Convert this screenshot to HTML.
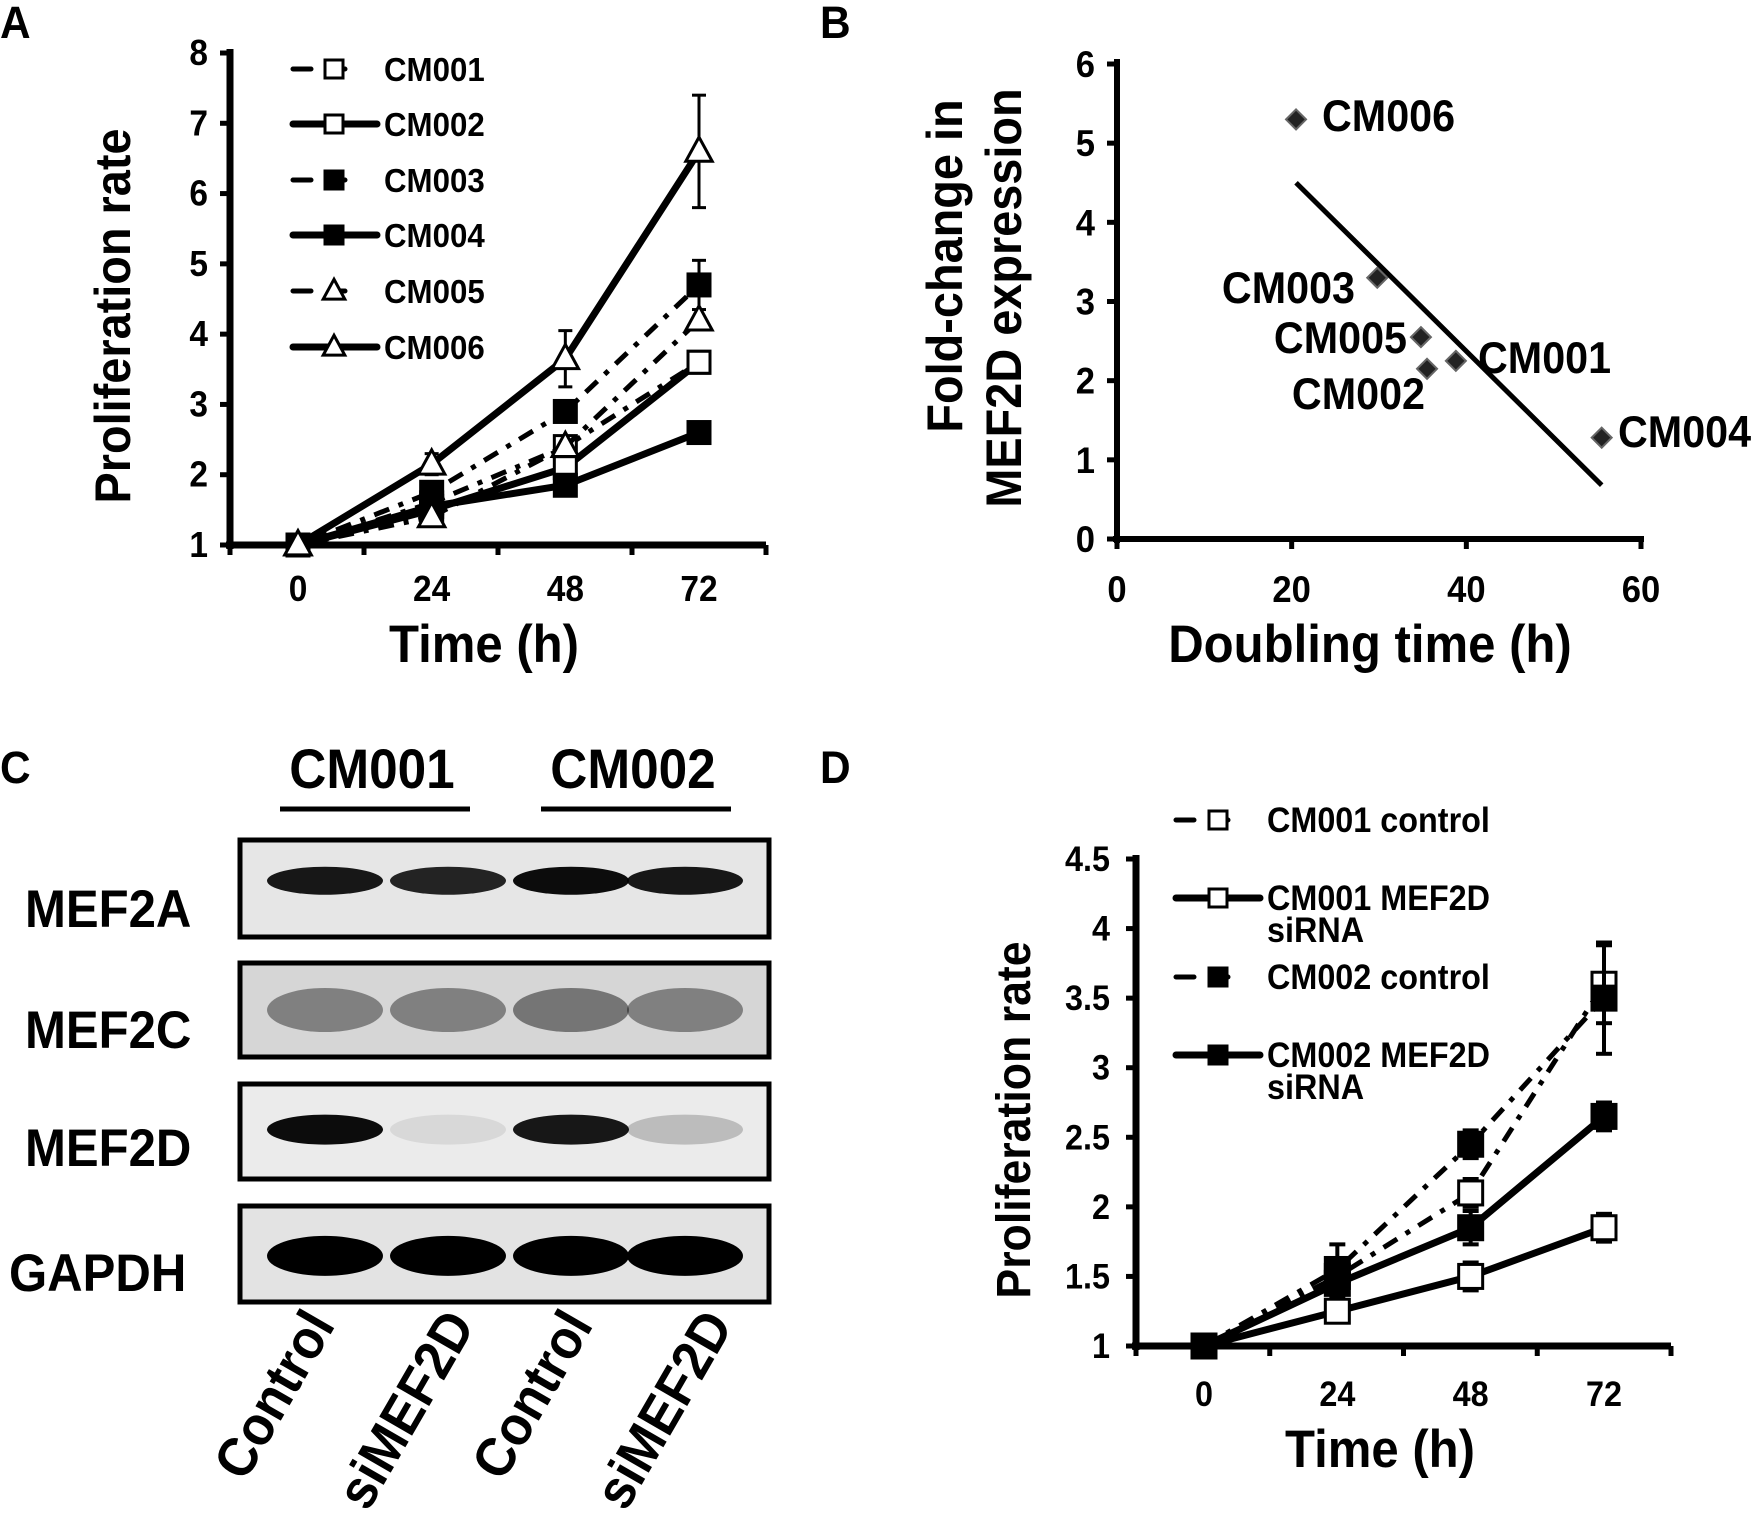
<!DOCTYPE html>
<html><head><meta charset="utf-8"><style>
html,body{margin:0;padding:0;background:#fff;}
svg{display:block;font-family:"Liberation Sans",Arial,sans-serif;font-weight:bold;}
</style></head><body>
<svg id="fig" width="1756" height="1525" viewBox="0 0 1756 1525" xmlns="http://www.w3.org/2000/svg">
<rect width="1756" height="1525" fill="#fff"/>
<g id="labels"></g>
<g id="pa"></g>
<g id="pb"></g>
<g id="pc"></g>
<g id="pd"></g>
</svg>
<script>
// ---------- data ----------
const timesA = [0, 24, 48, 72];
const seriesNamesA = ["CM001","CM002","CM003","CM004","CM005","CM006"];
const cm001 = [1, 1.6, 2.4, 3.6];
const cm002 = [1, 1.5, 2.1, 3.6];
const cm003 = [1, 1.75, 2.9, 4.7];
const cm004 = [1, 1.55, 1.85, 2.6];
const cm005 = [1, 1.4, 2.4, 4.2];
const cm006 = [1, 2.15, 3.65, 6.6];
const cm006Err = [0, 0.15, 0.4, 0.8];
const cm003Err = [0, 0.1, 0.1, 0.35];
const yTicksA = [1,2,3,4,5,6,7,8];

const ptNamesB = ["CM006","CM003","CM005","CM002","CM001","CM004"];
const doublingB = [20.5, 29.8, 34.8, 35.5, 38.8, 55.5];
const foldB = [5.3, 3.3, 2.55, 2.15, 2.25, 1.28];
const trendX = [20.5, 55.5];
const trendY = [4.5, 0.68];
const xTicksB = [0,20,40,60];
const yTicksB = [0,1,2,3,4,5,6];

const timesD = [0, 24, 48, 72];
const d001c = [1, 1.5, 2.1, 3.6];
const d001s = [1, 1.25, 1.5, 1.85];
const d002c = [1, 1.55, 2.45, 3.5];
const d002s = [1, 1.45, 1.85, 2.65];
const d001cErr = [0.05, 0.1, 0.1, 0.28];
const d002cErr = [0.08, 0.18, 0.1, 0.4];
const d002sErr = [0.05, 0.1, 0.12, 0.1];
const d001sErr = [0.03, 0.05, 0.1, 0.1];
const yTicksD = [1,1.5,2,2.5,3,3.5,4,4.5];

const NS = "http://www.w3.org/2000/svg";
function el(tag, attrs, parent, txt){
  const e = document.createElementNS(NS, tag);
  for (const k in attrs) e.setAttribute(k, attrs[k]);
  if (txt !== undefined) e.textContent = txt;
  parent.appendChild(e); return e;
}
function T(parent, x, y, size, anchor, str, rot){
  const tr = `translate(${x},${y})` + (rot ? ` rotate(${rot})` : "") + " scale(0.93,1)";
  return el("text", {x:0, y:0, "font-size": size*1.2, "text-anchor": anchor, transform: tr}, parent, str);
}
const DASH = "16,10,5,10";

function marker(g, kind, x, y, s){
  let m;
  if (kind === "sqo" || kind === "sqf") {
    m = el("rect", {x:x-s/2, y:y-s/2, width:s, height:s, fill: kind==="sqf"?"#000":"#fff", stroke:"#000","stroke-width":3}, g);
  } else if (kind === "tri") {
    m = el("polygon", {points:`${x},${y-s*0.65} ${x-s*0.6},${y+s*0.45} ${x+s*0.6},${y+s*0.45}`, fill:"#fff", stroke:"#000","stroke-width":3}, g);
  } else {
    m = el("polygon", {points:`${x},${y-s/2} ${x+s/2},${y} ${x},${y+s/2} ${x-s/2},${y}`, fill:"#222", stroke:"#666","stroke-width":2}, g);
  }
  
  
  return m;
}

(function(){
  const g = document.getElementById("labels");
  [["A",0,38],["B",820,38],["C",0,783],["D",820,783]].forEach(p=>{
    const t = T(g,p[1],p[2],38,"start",p[0]);
    
    
  });
})();

// ---------- Panel A ----------
(function(){
  const g = document.getElementById("pa");
  const x0=230, x1=766, yb=545, yt=53;
  const ya = v => yb - (v-1)*(yb-yt)/7;
  const xa = t => 298 + t*(699-298)/72;
  el("line",{x1:x0,y1:yt-4,x2:x0,y2:yb+4,stroke:"#000","stroke-width":7},g);
  el("line",{x1:x0-4,y1:yb,x2:x1,y2:yb,stroke:"#000","stroke-width":7},g);
  yTicksA.forEach(v=>{
    el("line",{x1:x0-10,y1:ya(v),x2:x0,y2:ya(v),stroke:"#000","stroke-width":5},g);
    const t = T(g,x0-22,ya(v)+12,30,"end",String(v));
     
  });
  [0,1,2,3,4].forEach(i=>{const xx=x0+i*(x1-x0)/4; el("line",{x1:xx,y1:yb,x2:xx,y2:yb+10,stroke:"#000","stroke-width":5},g);});
  timesA.forEach(t=>{
    const tl = T(g,xa(t),601,30,"middle",String(t));
     
  });
  const xt = T(g,484,662,44,"middle","Time (h)");
   
  const yt2 = T(g,130,316,42,"middle","Proliferation rate",-90);
   

  const series = [
    [cm001,"sqo",true,null],[cm002,"sqo",false,null],[cm003,"sqf",true,cm003Err],
    [cm004,"sqf",false,null],[cm005,"tri",true,null],[cm006,"tri",false,cm006Err]];
  series.forEach((s,i)=>{
    const pts = s[0].map((v,j)=>`${xa(timesA[j])},${ya(v)}`).join(" ");
    const pl = el("polyline",{points:pts,fill:"none",stroke:"#000","stroke-width":s[2]?5:7,"stroke-dasharray":s[2]?DASH:"none"},g);
     
    if (s[3]) s[3].forEach((e,j)=>{ if(e>0){const x=xa(timesA[j]);
      el("line",{x1:x,y1:ya(s[0][j]-e),x2:x,y2:ya(s[0][j]+e),stroke:"#000","stroke-width":3},g);
      el("line",{x1:x-7,y1:ya(s[0][j]+e),x2:x+7,y2:ya(s[0][j]+e),stroke:"#000","stroke-width":3},g);
      el("line",{x1:x-7,y1:ya(s[0][j]-e),x2:x+7,y2:ya(s[0][j]-e),stroke:"#000","stroke-width":3},g);}});
    s[0].forEach((v,j)=>marker(g,s[1],xa(timesA[j]),ya(v),22));
  });
  const ly=[69,124,180,235,291,347];
  series.forEach((s,i)=>{
    const lg = el("g",{},g);
     
    el("line",{x1:293,y1:ly[i],x2:377,y2:ly[i],stroke:"#000","stroke-width":s[2]?5:7,"stroke-dasharray":s[2]?"18,28,6,40":"none","stroke-linecap":"round"},lg);
    marker(lg,s[1],334,ly[i],18);
    T(lg,384,ly[i]+12,28,"start",seriesNamesA[i]);
  });
})();

// ---------- Panel B ----------
(function(){
  const g = document.getElementById("pb");
  const x0=1117, x1=1641, yb=539, yt=64;
  const xa = v => x0 + v*(x1-x0)/60;
  const ya = v => yb - v*(yb-yt)/6;
  el("line",{x1:x0,y1:yt-5,x2:x0,y2:yb+4,stroke:"#000","stroke-width":6},g);
  el("line",{x1:x0-4,y1:yb,x2:x1+3,y2:yb,stroke:"#000","stroke-width":6},g);
  yTicksB.forEach(v=>{
    el("line",{x1:x0-10,y1:ya(v),x2:x0,y2:ya(v),stroke:"#000","stroke-width":5},g);
    const t=T(g,x0-22,ya(v)+13,31,"end",String(v));
     
  });
  xTicksB.forEach(v=>{
    el("line",{x1:xa(v),y1:yb,x2:xa(v),y2:yb+10,stroke:"#000","stroke-width":5},g);
    const t=T(g,xa(v),602,31,"middle",String(v));
     
  });
  const xt=T(g,1370,662,44,"middle","Doubling time (h)");
   
  const y1=T(g,962,266,42,"middle","Fold-change in",-90);
   
  const y2=T(g,1021,298,42,"middle","MEF2D expression",-90);
   
  const tl=el("line",{x1:xa(trendX[0]),y1:ya(trendY[0]),x2:xa(trendX[1]),y2:ya(trendY[1]),stroke:"#000","stroke-width":5},g);
   
  const lab = [[1322,131,"start"],[1355,303,"end"],[1407,353,"end"],[1425,409,"end"],[1478,373,"start"],[1618,447,"start"]];
  doublingB.forEach((d,i)=>{
    marker(g,"dia",xa(d),ya(foldB[i]),20);
    const t=T(g,lab[i][0],lab[i][1],37,lab[i][2],ptNamesB[i]);
     
  });
})();

// ---------- Panel C ----------
(function(){
  const g = document.getElementById("pc");
  const h1=T(g,372,788,46,"middle","CM001");  
  const h2=T(g,633,788,46,"middle","CM002");  
  el("line",{x1:280,y1:809,x2:470,y2:809,stroke:"#000","stroke-width":5},g);
  el("line",{x1:541,y1:809,x2:731,y2:809,stroke:"#000","stroke-width":5},g);
  const rows=[["MEF2A",840,937,"#e6e6e6",0.42,[0.9,0.85,0.95,0.9],14],
              ["MEF2C",963,1057,"#d6d6d6",0.5,[0.4,0.4,0.45,0.4],22],
              ["MEF2D",1084,1179,"#ebebeb",0.48,[0.95,0.08,0.9,0.2],15],
              ["GAPDH",1206,1302,"#e3e3e3",0.52,[1,1,1,1],20]];
  const lanes=[325,448,571,685];
  const labY=[909,1030,1148,1273];
  rows.forEach((r,i)=>{
    const bg=el("g",{},g);
     
    el("rect",{x:240,y:r[1],width:529,height:r[2]-r[1],fill:r[3],stroke:"#000","stroke-width":5},bg);
    const cy=r[1]+(r[2]-r[1])*r[4];
    lanes.forEach((lx,j)=>{
      el("ellipse",{cx:lx,cy:cy,rx:58,ry:r[6],fill:"#000",opacity:r[5][j]},bg);
    });
    const t=T(g,i===3?9:25,labY[i]+18,44,"start",r[0]);
     
  });
  const lanesLab=["Control","siMEF2D","Control","siMEF2D"];
  const endX=[336,476,594,734];
  lanesLab.forEach((s,i)=>{
    const t=T(g,endX[i],1325,46,"end",s,-60);
     
  });
})();

// ---------- Panel D ----------
(function(){
  const g = document.getElementById("pd");
  const x0=1136, x1=1671, yb=1346, yt=859;
  const ya = v => yb - (v-1)*(yb-yt)/3.5;
  const xa = t => 1204 + t*(1604-1204)/72;
  el("line",{x1:x0,y1:yt-4,x2:x0,y2:yb+4,stroke:"#000","stroke-width":7},g);
  el("line",{x1:x0-4,y1:yb,x2:x1,y2:yb,stroke:"#000","stroke-width":7},g);
  yTicksD.forEach(v=>{
    el("line",{x1:x0-10,y1:ya(v),x2:x0,y2:ya(v),stroke:"#000","stroke-width":5},g);
    const t=T(g,x0-26,ya(v)+12,29,"end",String(v));
     
  });
  [0,1,2,3,4].forEach(i=>{const xx=x0+i*(x1-x0)/4; el("line",{x1:xx,y1:yb,x2:xx,y2:yb+10,stroke:"#000","stroke-width":5},g);});
  timesD.forEach(t=>{
    const tl=T(g,xa(t),1406,29,"middle",String(t));
     
  });
  const xt=T(g,1380,1467,44,"middle","Time (h)");
   
  const yt2=T(g,1030,1120,40,"middle","Proliferation rate",-90);
   
  const series=[[d001c,"sqo",true,d001cErr],[d001s,"sqo",false,d001sErr],[d002c,"sqf",true,d002cErr],[d002s,"sqf",false,d002sErr]];
  series.forEach((s,i)=>{
    const pts=s[0].map((v,j)=>`${xa(timesD[j])},${ya(v)}`).join(" ");
    const pl=el("polyline",{points:pts,fill:"none",stroke:"#000","stroke-width":s[2]?5:7,"stroke-dasharray":s[2]?DASH:"none"},g);
     
    s[3].forEach((e,j)=>{const x=xa(timesD[j]);
      el("line",{x1:x,y1:ya(s[0][j]-e),x2:x,y2:ya(s[0][j]+e),stroke:"#000","stroke-width":4},g);
      el("line",{x1:x-8,y1:ya(s[0][j]+e),x2:x+8,y2:ya(s[0][j]+e),stroke:"#000","stroke-width":4},g);
      el("line",{x1:x-8,y1:ya(s[0][j]-e),x2:x+8,y2:ya(s[0][j]-e),stroke:"#000","stroke-width":4},g);});
    s[0].forEach((v,j)=>marker(g,s[1],xa(timesD[j]),ya(v),24));
  });
  const leg=[["CM001 control",null,820,0],["CM001 MEF2D","siRNA",898,1],["CM002 control",null,977,2],["CM002 MEF2D","siRNA",1055,3]];
  leg.forEach(L=>{
    const s=series[L[3]];
    const lg=el("g",{},g);
     
    el("line",{x1:1176,y1:L[2],x2:1260,y2:L[2],stroke:"#000","stroke-width":s[2]?5:7,"stroke-dasharray":s[2]?"18,28,6,40":"none","stroke-linecap":"round"},lg);
    marker(lg,s[1],1218,L[2],18);
    T(lg,1267,L[2]+12,29,"start",L[0]);
    if(L[1]) T(lg,1267,L[2]+44,29,"start",L[1]);
  });
})();
</script>
</body></html>
